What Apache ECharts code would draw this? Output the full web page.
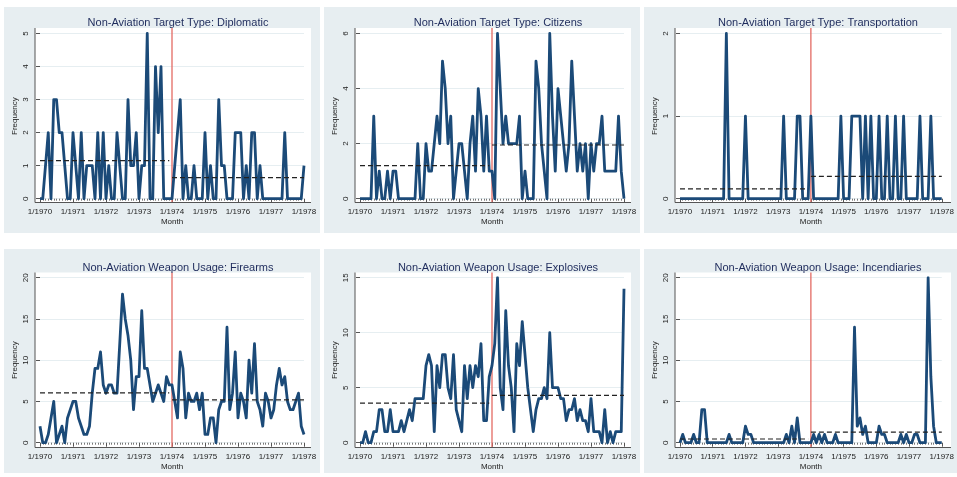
<!DOCTYPE html>
<html><head><meta charset="utf-8">
<script src="https://cdn.jsdelivr.net/npm/echarts@6/dist/echarts.min.js"></script>
<style>html,body{margin:0;padding:0;background:#fff}#c{width:957px;height:477px}</style>
</head><body><div id="c"></div>
<script>
// ---- tick labels / titles ----
const tickLabels = ['1/1970','1/1971','1/1972','1/1973','1/1974','1/1975','1/1976','1/1977','1/1978'];
const titles = [
  'Non-Aviation Target Type: Diplomatic',
  'Non-Aviation Target Type: Citizens',
  'Non-Aviation Target Type: Transportation',
  'Non-Aviation Weapon Usage: Firearms',
  'Non-Aviation Weapon Usage: Explosives',
  'Non-Aviation Weapon Usage: Incendiaries'
];
const breakMonth = 48;

// ---- monthly series, 1/1970 .. 1/1978 ----
const diplomatic = [0,0,1,2,0,3,3,2,2,1, 0,0,2,1,0,2,0,1,1,1, 0,2,0,2,0,1,0,0,2,1, 0,0,3,1,1,2,0,1,1,5, 0,0,4,2,4,0,0,0,
  0,1,2,3,0,1,0,0,1,0, 0,0,2,0,1,0,0,3,1,1, 0,0,0,2,2,2,0,1,0,2, 2,0,1,0,0,0,0,0,0,0, 0,2,0,0,0,0,0,0,1];
const diplomaticMeans = [1.15, 0.64];

const citizens = [0,0,0,0,0,3,0,1,0,0, 1,0,1,1,0,0,0,0,0,0, 0,2,0,0,2,1,1,2,3,2, 5,4,2,3,0,1,2,2,1,0, 2,3,1,4,3,1,3,1,
  1,0,6,4,2,3,2,2,2,2, 3,0,1,0,0,0,5,4,2,1, 0,6,3,1,4,3,2,1,2,5, 3,1,2,1,2,0,2,1,2,2, 3,1,1,1,1,1,3,1,0];
const citizensMeans = [1.2, 1.95];

const transportation = [0,0,0,0,0,0,0,0,0,0, 0,0,0,0,0,0,0,2,0,0, 0,0,0,0,1,0,0,0,0,0, 0,0,0,0,0,0,0,0,1,0, 0,0,0,1,1,0,0,0,
  1,0,0,0,0,0,0,0,0,0, 0,1,0,0,0,1,1,1,1,0, 1,0,1,0,0,1,0,0,1,0, 0,1,0,0,1,0,0,0,0,0, 1,0,0,0,1,0,0,0,0];
const transportationMeans = [0.12, 0.27];

const firearms = [2,0,0,1,3,5,0,1,2,0, 3,4,5,5,3,2,1,1,2,6, 9,9,11,7,6,7,7,6,6,12, 18,15,13,10,4,8,8,16,9,9, 7,5,6,7,6,5,8,7,
  7,5,3,11,9,3,6,5,5,6, 4,6,1,1,3,3,0,4,5,5, 14,4,6,11,3,6,5,3,10,6, 12,5,4,2,6,5,3,4,7,9, 7,8,5,4,4,5,6,2,1];
const firearmsMeans = [6.05, 5.2];

const explosives = [0,0,1,0,0,1,1,3,3,1, 1,3,1,1,1,2,1,2,3,2, 4,4,4,4,7,8,7,1,7,5, 8,8,5,4,8,3,2,1,7,4, 7,5,7,6,9,2,2,6,
  7,9,15,5,3,12,7,5,1,9, 7,11,8,5,3,1,3,4,4,5, 4,10,5,5,5,4,4,2,3,3, 4,2,3,2,2,1,4,1,1,1, 0,3,0,1,0,1,1,1,14];
const explosivesMeans = [3.6, 4.3];

const incendiaries = [0,1,0,0,0,1,0,0,4,4, 0,0,0,0,0,0,0,0,1,0, 0,0,0,0,2,1,1,0,0,0, 0,0,0,0,0,0,0,0,0,1, 0,2,0,3,0,0,0,0,
  0,1,0,1,0,1,0,0,0,1, 0,0,0,0,0,0,14,2,3,1, 2,0,0,0,0,2,1,1,0,0, 0,0,0,1,0,1,0,0,1,1, 0,0,0,20,8,2,0,0,0];
const incendiariesMeans = [0.45, 1.28];

const yMaxes = [5, 6, 2, 20, 15, 20];
const yIntervals = [1, 2, 1, 5, 5, 5];

// ---- layout ----
const colLeft = [4, 324, 644];
const colWidth = [316, 316, 313];
const rows = [
  {bgTop: 7, bgBottom: 233, plotTop: 28, axisY: 202.5, dataTop: 33.5, dataH: 165.2, titleY: 19.5},
  {bgTop: 249, bgBottom: 473, plotTop: 272.5, axisY: 447.5, dataTop: 277.7, dataH: 165, titleY: 264}
];
const lineColor = '#1b4a78';
const textColor = '#222';
const font = 'Liberation Sans, Arial, sans-serif';

const panelData = [
  [diplomatic, diplomaticMeans], [citizens, citizensMeans], [transportation, transportationMeans],
  [firearms, firearmsMeans], [explosives, explosivesMeans], [incendiaries, incendiariesMeans]
];

const grids = [], xAxes = [], yAxes = [], series = [], titleComps = [], graphics = [];

panelData.forEach(([vals, means], k) => {
  const col = k % 3, row = Math.floor(k / 3);
  const R = rows[row];
  const px = colLeft[col];
  const dataLeft = px + 36, dataW = 264;
  const plotLeft = px + 31, plotRight = px + 307;
  const dataBottom = R.dataTop + R.dataH;
  const yMax = yMaxes[k];

  graphics.push({type: 'rect', z: -10, silent: true,
    shape: {x: px, y: R.bgTop, width: colWidth[col], height: R.bgBottom - R.bgTop},
    style: {fill: '#e7eef1'}});
  graphics.push({type: 'rect', z: -9, silent: true,
    shape: {x: plotLeft, y: R.plotTop, width: plotRight - plotLeft, height: R.axisY - R.plotTop},
    style: {fill: '#ffffff'}});
  graphics.push({type: 'line', z: 5, silent: true,
    shape: {x1: plotLeft, y1: R.plotTop, x2: plotLeft, y2: R.axisY},
    style: {stroke: '#555', lineWidth: 1}});
  graphics.push({type: 'line', z: 5, silent: true,
    shape: {x1: plotLeft, y1: R.axisY, x2: plotRight, y2: R.axisY},
    style: {stroke: '#555', lineWidth: 1}});

  titleComps.push({text: titles[k], left: (plotLeft + plotRight) / 2, top: R.titleY - 7, textAlign: 'center',
    textStyle: {fontFamily: font, fontSize: 11, fontWeight: 'normal', color: '#1e2b5c'}});

  grids.push({left: dataLeft, top: R.dataTop, width: dataW, height: R.dataH});

  xAxes.push({gridIndex: k, type: 'value', min: 0, max: 96, interval: 12,
    offset: R.axisY - dataBottom,
    name: 'Month', nameLocation: 'middle', nameGap: 15,
    nameTextStyle: {fontFamily: font, fontSize: 8, color: textColor},
    axisLine: {show: false},
    axisTick: {show: true, length: 4, lineStyle: {color: '#555'}},
    minorTick: {show: true, splitNumber: 12, length: 2, lineStyle: {color: '#777'}},
    splitLine: {show: false},
    axisLabel: {fontFamily: font, fontSize: 8, color: textColor, margin: 5,
      formatter: v => tickLabels[Math.round(v / 12)]}
  });

  yAxes.push({gridIndex: k, type: 'value', min: 0, max: yMax, interval: yIntervals[k],
    offset: dataLeft - plotLeft,
    name: 'Frequency', nameLocation: 'middle', nameGap: 16, nameRotate: 90,
    nameTextStyle: {fontFamily: font, fontSize: 8, color: textColor},
    axisLine: {show: false},
    axisTick: {show: true, length: 4, lineStyle: {color: '#555'}},
    splitLine: {show: true, lineStyle: {color: '#e6eef1', width: 1}},
    axisLabel: {fontFamily: font, fontSize: 8, color: textColor, rotate: 90, margin: 5}
  });

  // red break line spanning plot region
  const perPx = yMax / R.dataH;
  const redLo = -(R.axisY - dataBottom) * perPx;
  const redHi = yMax + (R.dataTop - R.plotTop) * perPx;
  series.push({type: 'line', xAxisIndex: k, yAxisIndex: k, z: 1, clip: false, symbol: 'none', silent: true,
    data: [[breakMonth, redLo], [breakMonth, redHi]],
    lineStyle: {color: '#e36a63', width: 1.3}});

  series.push({type: 'line', xAxisIndex: k, yAxisIndex: k, z: 2, symbol: 'none', silent: true,
    data: vals.map((v, i) => [i, v]),
    lineStyle: {color: lineColor, width: 2.8, join: 'round'}});

  series.push({type: 'line', xAxisIndex: k, yAxisIndex: k, z: 3, symbol: 'none', silent: true,
    data: [[0, means[0]], [breakMonth - 1, means[0]]],
    lineStyle: {color: '#222', width: 1.2, type: [5, 3]}});
  series.push({type: 'line', xAxisIndex: k, yAxisIndex: k, z: 3, symbol: 'none', silent: true,
    data: [[breakMonth, means[1]], [96, means[1]]],
    lineStyle: {color: '#222', width: 1.2, type: [5, 3]}});
});

const chart = echarts.init(document.getElementById('c'), null, {renderer: 'canvas'});
chart.setOption({
  animation: false,
  backgroundColor: '#ffffff',
  title: titleComps,
  grid: grids,
  xAxis: xAxes,
  yAxis: yAxes,
  series: series,
  graphic: graphics
});
</script>
</body></html>
